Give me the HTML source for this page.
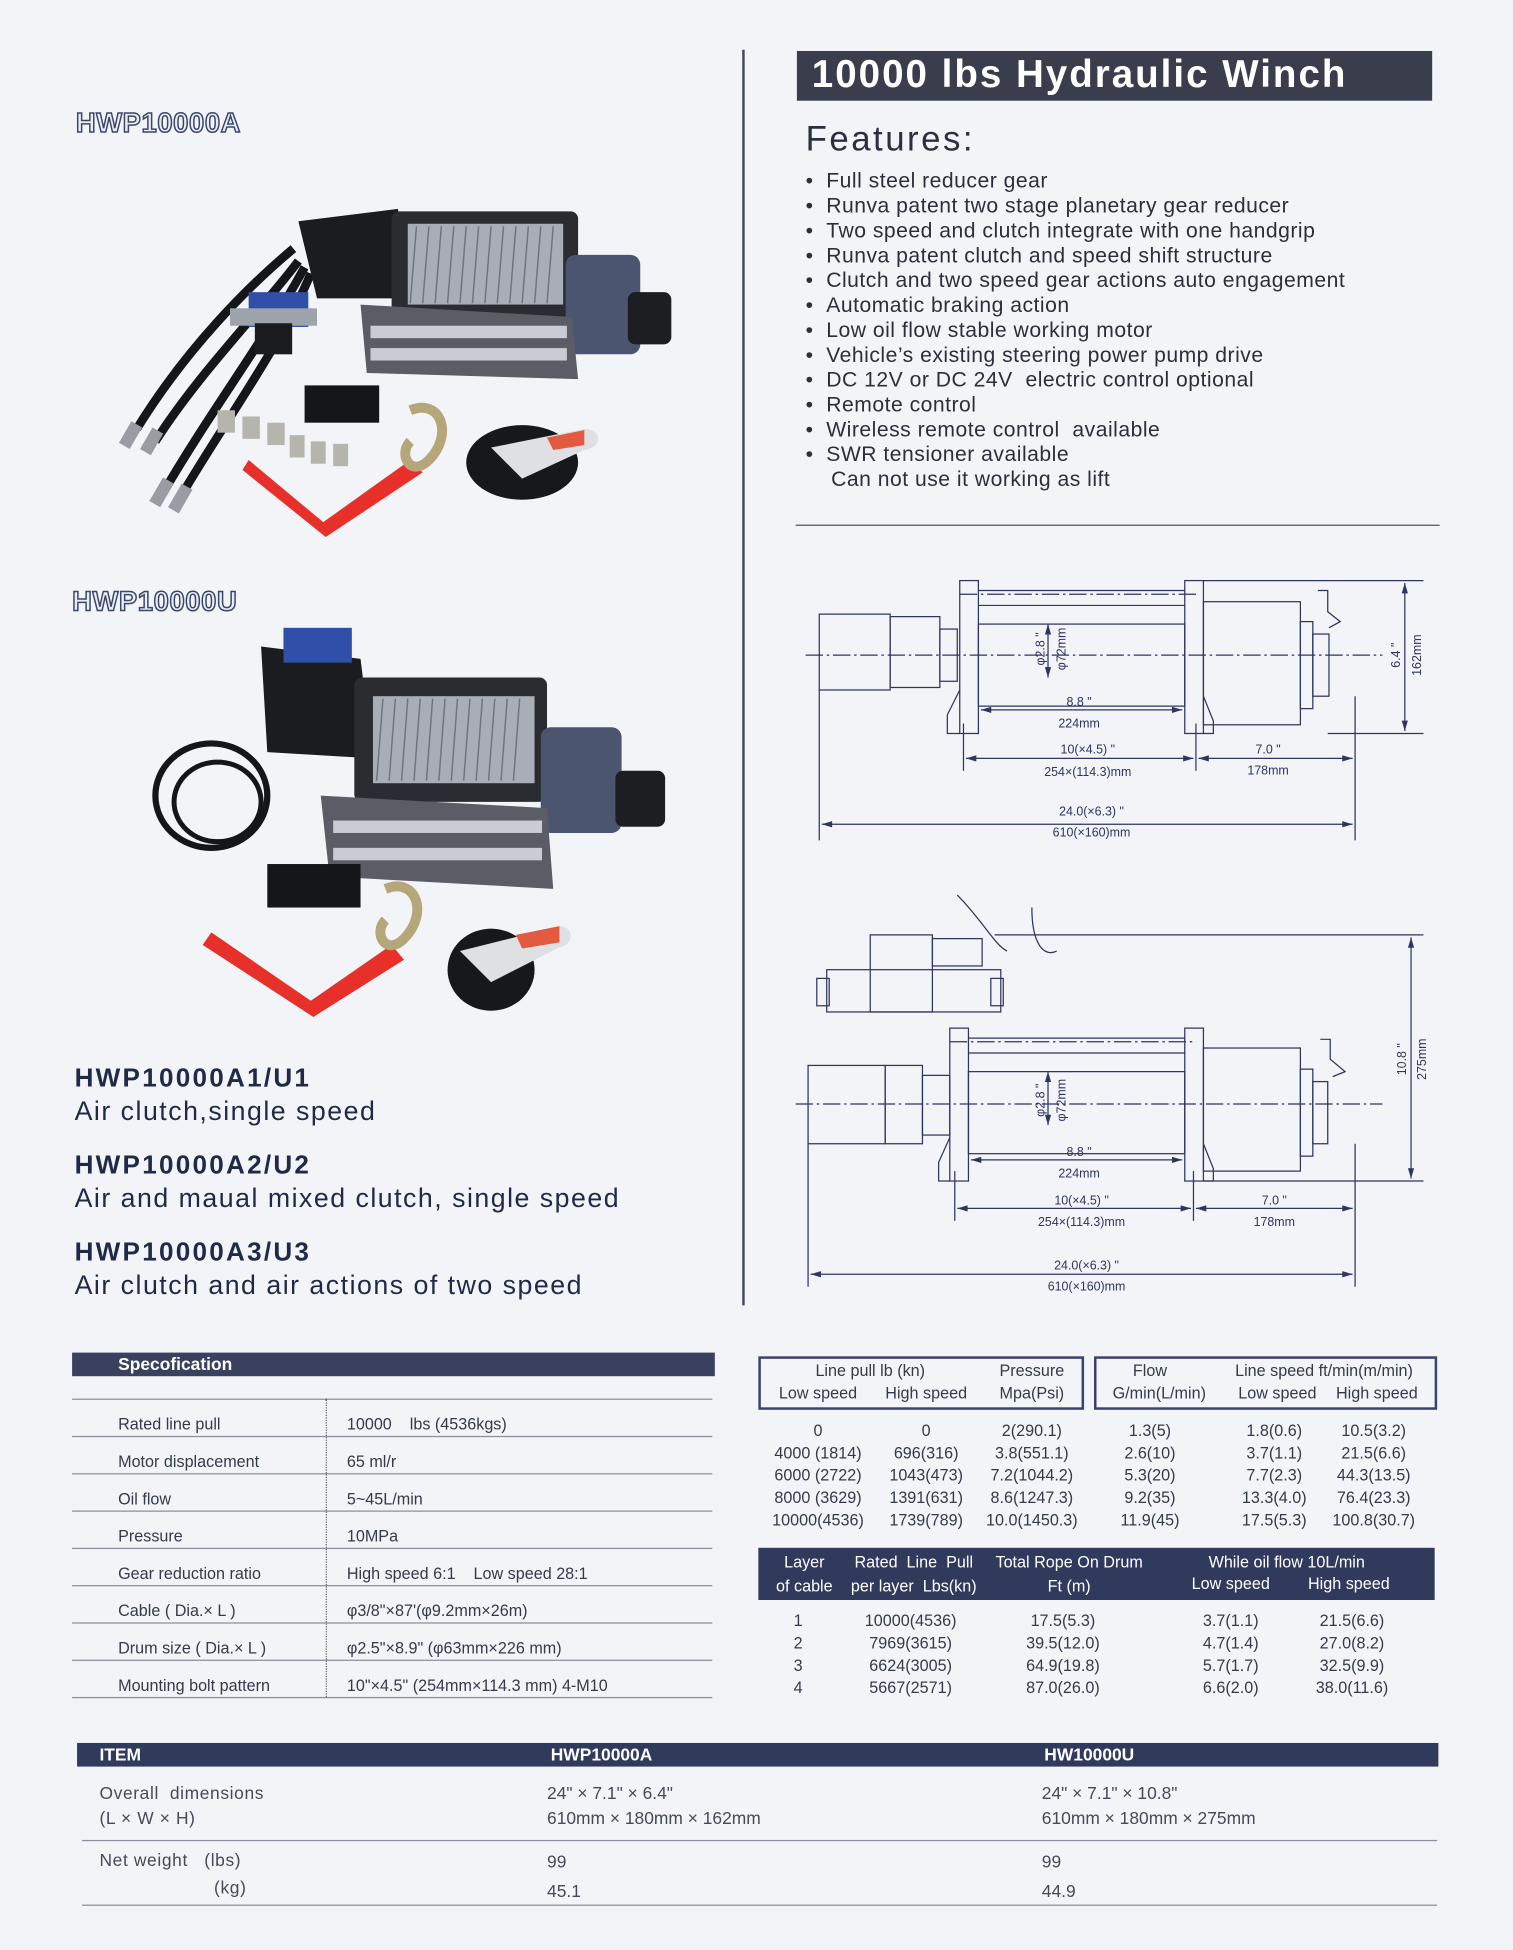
<!DOCTYPE html>
<html><head><meta charset="utf-8">
<style>
html,body{margin:0;padding:0;background:#f3f4f7;}
body{width:1513px;height:1950px;overflow:hidden;position:relative;}
#pg{position:absolute;left:0;top:0;width:1217px;height:1568px;transform:scale(1.2432);transform-origin:0 0;font-family:"Liberation Sans",Arial,sans-serif;color:#2a2f45;}
.a{position:absolute;white-space:nowrap;}
.out{font-family:"Liberation Sans",sans-serif;font-weight:bold;font-size:22px;color:#e9edf6;-webkit-text-stroke:1.2px #3b4766;letter-spacing:0.5px;}
.mh{font-weight:bold;font-size:21px;color:#1f2a48;letter-spacing:1.8px}
.ms{font-size:21.5px;color:#1f2a48;letter-spacing:1.2px}
.feat{font-size:17px;color:#2a2f3a;line-height:20px;letter-spacing:0.4px}
.sp{font-size:13px;color:#333a4a;}
.t{font-size:13px;color:#333a4a;text-align:center;}
.hl{position:absolute;height:1px;background:#8a8f9c;}
</style></head><body><div id="pg">

<div class="a out" style="left:61px;top:86px">HWP10000A</div>
<div class="a out" style="left:58px;top:471px">HWP10000U</div>

<svg class="a" style="left:0;top:0" width="600" height="1060" viewBox="0 0 600 1060">
 <g>
  <path d="M236,200 C200,230 150,280 110,345" stroke="#15161a" stroke-width="7" fill="none"/>
  <path d="M240,210 C210,250 160,300 125,355" stroke="#15161a" stroke-width="7" fill="none"/>
  <path d="M245,215 C215,270 170,330 132,395" stroke="#15161a" stroke-width="7" fill="none"/>
  <path d="M250,220 C225,280 180,340 145,400" stroke="#15161a" stroke-width="7" fill="none"/>
  <rect x="100" y="340" width="10" height="20" fill="#9a9ca3" transform="rotate(30 105 350)"/>
  <rect x="117" y="345" width="10" height="20" fill="#9a9ca3" transform="rotate(30 122 355)"/>
  <rect x="125" y="385" width="10" height="22" fill="#9a9ca3" transform="rotate(30 130 396)"/>
  <rect x="140" y="390" width="10" height="22" fill="#9a9ca3" transform="rotate(30 145 401)"/>
  <path d="M240,178 L320,168 L335,240 L255,240 Z" fill="#1b1c20"/>
  <rect x="315" y="170" width="150" height="90" rx="6" fill="#2b2c31"/>
  <rect x="328" y="180" width="125" height="65" fill="#a9adb5"/>
  <g stroke="#6f7480" stroke-width="1.2">
   <line x1="335" y1="182" x2="330" y2="244"/><line x1="345" y1="182" x2="340" y2="244"/><line x1="355" y1="182" x2="350" y2="244"/><line x1="365" y1="182" x2="360" y2="244"/><line x1="375" y1="182" x2="370" y2="244"/><line x1="385" y1="182" x2="380" y2="244"/><line x1="395" y1="182" x2="390" y2="244"/><line x1="405" y1="182" x2="400" y2="244"/><line x1="415" y1="182" x2="410" y2="244"/><line x1="425" y1="182" x2="420" y2="244"/><line x1="435" y1="182" x2="430" y2="244"/><line x1="445" y1="182" x2="440" y2="244"/>
  </g>
  <rect x="455" y="205" width="60" height="80" rx="8" fill="#4b5570"/>
  <rect x="505" y="235" width="35" height="42" rx="6" fill="#1d1e22"/>
  <path d="M290,245 L460,255 L465,305 L295,300 Z" fill="#5a5d66"/>
  <rect x="298" y="262" width="158" height="10" fill="#c9ccd2"/><rect x="298" y="280" width="158" height="10" fill="#c9ccd2"/>
  <rect x="200" y="235" width="48" height="28" fill="#2f4fa8"/><rect x="185" y="248" width="70" height="14" fill="#9fa3ab"/><rect x="205" y="260" width="30" height="25" fill="#1b1c20"/>
  <g fill="#15161a"><rect x="245" y="310" width="60" height="30"/></g>
  <g fill="#b6b5ad"><rect x="175" y="330" width="14" height="18"/><rect x="195" y="335" width="14" height="18"/><rect x="215" y="340" width="14" height="18"/><rect x="233" y="350" width="12" height="18"/><rect x="250" y="355" width="12" height="18"/><rect x="268" y="357" width="12" height="18"/></g>
  <path d="M200,370 L260,420 L330,370 L340,380 L262,432 L195,378 Z" fill="#e8302a"/>
  <path d="M330,330 C355,320 365,350 345,370 C330,385 320,365 330,355" stroke="#b5a77a" stroke-width="8" fill="none"/>
  <ellipse cx="420" cy="372" rx="45" ry="30" fill="#17181c"/>
  <path d="M395,360 L470,345 C485,345 485,360 470,362 L420,385 Z" fill="#dfe0e3"/><path d="M440,352 L470,346 L470,358 L445,362 Z" fill="#e25a40"/>
 </g>
 <g>
  <ellipse cx="170" cy="640" rx="45" ry="42" fill="none" stroke="#15161a" stroke-width="5"/>
  <ellipse cx="175" cy="645" rx="35" ry="32" fill="none" stroke="#15161a" stroke-width="4"/>
  <path d="M210,520 L290,530 L300,610 L215,605 Z" fill="#1b1c20"/>
  <rect x="228" y="505" width="55" height="28" fill="#2f4fa8"/>
  <rect x="285" y="545" width="155" height="100" rx="6" fill="#2b2c31"/>
  <rect x="300" y="560" width="130" height="70" fill="#a9adb5"/>
  <g stroke="#6f7480" stroke-width="1.2">
   <line x1="308" y1="562" x2="303" y2="628"/><line x1="318" y1="562" x2="313" y2="628"/><line x1="328" y1="562" x2="323" y2="628"/><line x1="338" y1="562" x2="333" y2="628"/><line x1="348" y1="562" x2="343" y2="628"/><line x1="358" y1="562" x2="353" y2="628"/><line x1="368" y1="562" x2="363" y2="628"/><line x1="378" y1="562" x2="373" y2="628"/><line x1="388" y1="562" x2="383" y2="628"/><line x1="398" y1="562" x2="393" y2="628"/><line x1="408" y1="562" x2="403" y2="628"/><line x1="418" y1="562" x2="413" y2="628"/>
  </g>
  <rect x="435" y="585" width="65" height="85" rx="8" fill="#4b5570"/>
  <rect x="495" y="620" width="40" height="45" rx="6" fill="#1d1e22"/>
  <path d="M258,640 L440,650 L445,715 L265,705 Z" fill="#5a5d66"/>
  <rect x="268" y="660" width="168" height="10" fill="#c9ccd2"/><rect x="268" y="682" width="168" height="10" fill="#c9ccd2"/>
  <rect x="215" y="695" width="75" height="35" fill="#15161a"/>
  <path d="M170,750 L250,805 L315,760 L325,772 L252,818 L163,760 Z" fill="#e8302a"/>
  <path d="M310,715 C335,705 345,735 325,755 C310,770 300,750 310,740" stroke="#b5a77a" stroke-width="8" fill="none"/>
  <ellipse cx="395" cy="780" rx="35" ry="33" fill="#17181c"/>
  <path d="M370,765 L450,745 C462,745 462,760 450,762 L395,790 Z" fill="#dfe0e3"/><path d="M415,752 L450,745 L450,758 L420,763 Z" fill="#e25a40"/>
 </g>
</svg>

<div class="a mh" style="left:60px;top:856px">HWP10000A1/U1</div>
<div class="a ms" style="left:60px;top:882px">Air clutch,single speed</div>
<div class="a mh" style="left:60px;top:926px">HWP10000A2/U2</div>
<div class="a ms" style="left:60px;top:952px">Air and maual mixed clutch, single speed</div>
<div class="a mh" style="left:60px;top:996px">HWP10000A3/U3</div>
<div class="a ms" style="left:60px;top:1022px">Air clutch and air actions of two speed</div>

<div class="a" style="left:597px;top:40px;width:1.5px;height:1010px;background:#444a5a"></div>

<div class="a" style="left:641px;top:41px;width:511px;height:40px;background:#393d4c;color:#fff;font-weight:bold;font-size:31px;line-height:38px;"><span style="padding-left:12px;letter-spacing:1.6px">10000 lbs Hydraulic Winch</span></div>
<div class="a" style="left:648px;top:96px;font-size:28px;letter-spacing:2px;color:#2b3040">Features:</div>
<div class="a feat" style="left:648px;top:136px">
• &nbsp;Full steel reducer gear<br>• &nbsp;Runva patent two stage planetary gear reducer<br>• &nbsp;Two speed and clutch integrate with one handgrip<br>• &nbsp;Runva patent clutch and speed shift structure<br>• &nbsp;Clutch and two speed gear actions auto engagement<br>• &nbsp;Automatic braking action<br>• &nbsp;Low oil flow stable working motor<br>• &nbsp;Vehicle’s existing steering power pump drive<br>• &nbsp;DC 12V or DC 24V &nbsp;electric control optional<br>• &nbsp;Remote control<br>• &nbsp;Wireless remote control &nbsp;available<br>• &nbsp;SWR tensioner available<br>&nbsp; &nbsp;&nbsp;Can not use it working as lift
</div>
<div class="a" style="left:640px;top:422px;width:518px;height:1px;background:#555"></div>

<svg class="a" style="left:0;top:0" width="1217" height="1060" viewBox="0 0 1217 1060">
<defs><marker id="ar" viewBox="0 0 10 6" refX="10" refY="3" markerWidth="9" markerHeight="5" orient="auto-start-reverse"><path d="M0,0 L10,3 L0,6Z" fill="#2e3560"/></marker></defs>
<g stroke="#2e3560" stroke-width="1" fill="none" font-family="Liberation Sans,sans-serif">
 <rect x="659" y="494" width="57" height="61"/><rect x="716" y="496" width="40" height="57"/>
 <rect x="756" y="506" width="14" height="42"/>
 <rect x="772" y="467" width="15" height="123"/><path d="M772,555 L762,575 L762,590 L772,590"/>
 <line x1="787" y1="475" x2="953" y2="475"/><line x1="787" y1="487" x2="953" y2="487"/>
 <rect x="787" y="502" width="166" height="66"/>
 <rect x="953" y="467" width="15" height="123"/><path d="M968,560 L976,580 L976,590 L968,590"/>
 <rect x="968" y="484" width="78" height="99"/><rect x="1046" y="500" width="10" height="70"/><rect x="1056" y="510" width="13" height="50"/>
 <path d="M1060,475 L1068,475 L1068,492 L1078,500 L1069,505"/>
 <line x1="1068" y1="590" x2="1145" y2="590"/><line x1="968" y1="467" x2="1145" y2="467"/>
 <line x1="648" y1="527" x2="1112" y2="527" stroke-dasharray="14,3,2,3"/>
 <line x1="772" y1="478" x2="962" y2="478" stroke-dasharray="14,3,2,3"/>
 <line x1="1130" y1="469" x2="1130" y2="588" marker-start="url(#ar)" marker-end="url(#ar)"/>
 <line x1="843" y1="502" x2="843" y2="545" marker-start="url(#ar)" marker-end="url(#ar)"/>
 <line x1="789" y1="571" x2="951" y2="571" marker-start="url(#ar)" marker-end="url(#ar)"/>
 <line x1="775" y1="582" x2="775" y2="620"/><line x1="962" y1="582" x2="962" y2="620"/><line x1="1090" y1="560" x2="1090" y2="676"/><line x1="659" y1="555" x2="659" y2="676"/>
 <line x1="777" y1="610" x2="960" y2="610" marker-start="url(#ar)" marker-end="url(#ar)"/>
 <line x1="964" y1="610" x2="1088" y2="610" marker-start="url(#ar)" marker-end="url(#ar)"/>
 <line x1="661" y1="663" x2="1088" y2="663" marker-start="url(#ar)" marker-end="url(#ar)"/>
 <path d="M770,720 C790,740 800,760 810,765 M830,730 C830,760 840,770 850,765"/>
 <rect x="700" y="752" width="50" height="62"/><rect x="665" y="780" width="140" height="34"/><rect x="657" y="787" width="10" height="22"/><rect x="797" y="787" width="10" height="22"/>
 <rect x="750" y="755" width="40" height="22"/>
 <rect x="650" y="857" width="62" height="63"/><rect x="712" y="857" width="30" height="63"/><rect x="742" y="865" width="22" height="48"/>
 <rect x="764" y="827" width="15" height="123"/><path d="M764,915 L755,935 L755,950 L764,950"/>
 <line x1="779" y1="835" x2="953" y2="835"/><line x1="779" y1="847" x2="953" y2="847"/>
 <rect x="779" y="862" width="174" height="66"/>
 <rect x="953" y="827" width="15" height="123"/><path d="M968,920 L976,940 L976,950 L968,950"/>
 <rect x="968" y="843" width="78" height="99"/><rect x="1046" y="860" width="10" height="70"/><rect x="1056" y="870" width="12" height="50"/>
 <path d="M1062,836 L1070,836 L1070,852 L1082,862 L1072,866"/>
 <line x1="968" y1="950" x2="1145" y2="950"/><line x1="800" y1="752" x2="1145" y2="752"/>
 <line x1="640" y1="888" x2="1112" y2="888" stroke-dasharray="14,3,2,3"/>
 <line x1="764" y1="838" x2="962" y2="838" stroke-dasharray="14,3,2,3"/>
 <line x1="1135" y1="754" x2="1135" y2="948" marker-start="url(#ar)" marker-end="url(#ar)"/>
 <line x1="843" y1="862" x2="843" y2="905" marker-start="url(#ar)" marker-end="url(#ar)"/>
 <line x1="781" y1="933" x2="951" y2="933" marker-start="url(#ar)" marker-end="url(#ar)"/>
 <line x1="768" y1="942" x2="768" y2="982"/><line x1="960" y1="942" x2="960" y2="982"/><line x1="1090" y1="920" x2="1090" y2="1035"/><line x1="650" y1="920" x2="650" y2="1035"/>
 <line x1="770" y1="972" x2="958" y2="972" marker-start="url(#ar)" marker-end="url(#ar)"/>
 <line x1="962" y1="972" x2="1088" y2="972" marker-start="url(#ar)" marker-end="url(#ar)"/>
 <line x1="652" y1="1025" x2="1088" y2="1025" marker-start="url(#ar)" marker-end="url(#ar)"/>
</g>
<g fill="#2e3560" font-family="Liberation Sans,sans-serif" font-size="10" text-anchor="middle">
 <text x="868" y="568">8.8 "</text><text x="868" y="585">224mm</text>
 <text x="875" y="606">10(×4.5) "</text><text x="875" y="624">254×(114.3)mm</text>
 <text x="1020" y="606">7.0 "</text><text x="1020" y="623">178mm</text>
 <text x="878" y="656">24.0(×6.3) "</text><text x="878" y="673">610(×160)mm</text>
 <text transform="translate(1126,527) rotate(-90)">6.4 "</text><text transform="translate(1143,527) rotate(-90)">162mm</text>
 <text transform="translate(840,522) rotate(-90)">φ2.8 "</text><text transform="translate(857,522) rotate(-90)">φ72mm</text>
 <text x="868" y="930">8.8 "</text><text x="868" y="947">224mm</text>
 <text x="870" y="969">10(×4.5) "</text><text x="870" y="986">254×(114.3)mm</text>
 <text x="1025" y="969">7.0 "</text><text x="1025" y="986">178mm</text>
 <text x="874" y="1021">24.0(×6.3) "</text><text x="874" y="1038">610(×160)mm</text>
 <text transform="translate(1131,852) rotate(-90)">10.8 "</text><text transform="translate(1147,852) rotate(-90)">275mm</text>
 <text transform="translate(840,885) rotate(-90)">φ2.8 "</text><text transform="translate(857,885) rotate(-90)">φ72mm</text>
</g>
</svg>

<div class="a" style="left:58px;top:1088px;width:517px;height:19px;background:#3a4160;color:#fff;font-weight:bold;font-size:14px;line-height:19px"><span style="padding-left:37px">Specofication</span></div>
<div class="hl" style="left:58px;top:1125px;width:515px"></div>
<div class="hl" style="left:58px;top:1155px;width:515px"></div>
<div class="hl" style="left:58px;top:1185px;width:515px"></div>
<div class="hl" style="left:58px;top:1215px;width:515px"></div>
<div class="hl" style="left:58px;top:1245px;width:515px"></div>
<div class="hl" style="left:58px;top:1275px;width:515px"></div>
<div class="hl" style="left:58px;top:1305px;width:515px"></div>
<div class="hl" style="left:58px;top:1335px;width:515px"></div>
<div class="hl" style="left:58px;top:1365px;width:515px"></div>
<div class="a" style="left:262px;top:1125px;height:240px;border-left:1px dotted #666"></div>
<div class="a sp" style="left:95px;top:1131px;line-height:30px">Rated line pull<br>Motor displacement<br>Oil flow<br>Pressure<br>Gear reduction ratio<br>Cable ( Dia.× L )<br>Drum size ( Dia.× L )<br>Mounting bolt pattern</div>
<div class="a sp" style="left:279px;top:1131px;line-height:30px">10000 &nbsp;&nbsp;&nbsp;lbs (4536kgs)<br>65 ml/r<br>5~45L/min<br>10MPa<br>High speed 6:1 &nbsp;&nbsp;&nbsp;Low speed 28:1<br>φ3/8"×87'(φ9.2mm×26m)<br>φ2.5"×8.9" (φ63mm×226 mm)<br>10"×4.5" (254mm×114.3 mm) 4-M10</div>

<div class="a" style="left:610px;top:1091px;width:258px;height:39px;border:2px solid #3a4170"></div>
<div class="a" style="left:880px;top:1091px;width:272px;height:39px;border:2px solid #3a4170"></div>
<div class="a t" style="left:630px;top:1095px;width:140px">Line pull lb (kn)</div>
<div class="a t" style="left:790px;top:1095px;width:80px">Pressure</div>
<div class="a t" style="left:613px;top:1113px;width:90px">Low speed</div>
<div class="a t" style="left:700px;top:1113px;width:90px">High speed</div>
<div class="a t" style="left:790px;top:1113px;width:80px">Mpa(Psi)</div>
<div class="a t" style="left:885px;top:1095px;width:80px">Flow</div>
<div class="a t" style="left:980px;top:1095px;width:170px">Line speed ft/min(m/min)</div>
<div class="a t" style="left:885px;top:1113px;width:95px">G/min(L/min)</div>
<div class="a t" style="left:985px;top:1113px;width:85px">Low speed</div>
<div class="a t" style="left:1065px;top:1113px;width:85px">High speed</div>
<div class="a t" style="left:613px;top:1142px;width:90px;line-height:18px">0<br>4000 (1814)<br>6000 (2722)<br>8000 (3629)<br>10000(4536)</div>
<div class="a t" style="left:700px;top:1142px;width:90px;line-height:18px">0<br>696(316)<br>1043(473)<br>1391(631)<br>1739(789)</div>
<div class="a t" style="left:785px;top:1142px;width:90px;line-height:18px">2(290.1)<br>3.8(551.1)<br>7.2(1044.2)<br>8.6(1247.3)<br>10.0(1450.3)</div>
<div class="a t" style="left:885px;top:1142px;width:80px;line-height:18px">1.3(5)<br>2.6(10)<br>5.3(20)<br>9.2(35)<br>11.9(45)</div>
<div class="a t" style="left:985px;top:1142px;width:80px;line-height:18px">1.8(0.6)<br>3.7(1.1)<br>7.7(2.3)<br>13.3(4.0)<br>17.5(5.3)</div>
<div class="a t" style="left:1060px;top:1142px;width:90px;line-height:18px">10.5(3.2)<br>21.5(6.6)<br>44.3(13.5)<br>76.4(23.3)<br>100.8(30.7)</div>

<div class="a" style="left:610px;top:1245px;width:544px;height:42px;background:#2f3a5c"></div>
<div class="a t" style="left:612px;top:1247px;width:70px;color:#fff;line-height:19px">Layer<br>of cable</div>
<div class="a t" style="left:680px;top:1247px;width:110px;color:#fff;line-height:19px">Rated &nbsp;Line &nbsp;Pull<br>per layer &nbsp;Lbs(kn)</div>
<div class="a t" style="left:800px;top:1247px;width:120px;color:#fff;line-height:19px">Total Rope On Drum<br>Ft (m)</div>
<div class="a t" style="left:950px;top:1247px;width:170px;color:#fff;line-height:19px">While oil flow 10L/min</div>
<div class="a t" style="left:950px;top:1266px;width:80px;color:#fff">Low speed</div>
<div class="a t" style="left:1045px;top:1266px;width:80px;color:#fff">High speed</div>
<div class="a t" style="left:612px;top:1295px;width:60px;line-height:18px">1<br>2<br>3<br>4</div>
<div class="a t" style="left:680px;top:1295px;width:105px;line-height:18px">10000(4536)<br>7969(3615)<br>6624(3005)<br>5667(2571)</div>
<div class="a t" style="left:810px;top:1295px;width:90px;line-height:18px">17.5(5.3)<br>39.5(12.0)<br>64.9(19.8)<br>87.0(26.0)</div>
<div class="a t" style="left:950px;top:1295px;width:80px;line-height:18px">3.7(1.1)<br>4.7(1.4)<br>5.7(1.7)<br>6.6(2.0)</div>
<div class="a t" style="left:1045px;top:1295px;width:85px;line-height:18px">21.5(6.6)<br>27.0(8.2)<br>32.5(9.9)<br>38.0(11.6)</div>

<div class="a" style="left:62px;top:1402px;width:1095px;height:19px;background:#2f3a5c;color:#fff;font-weight:bold;font-size:14px;line-height:19px">
 <span class="a" style="left:18px">ITEM</span><span class="a" style="left:381px">HWP10000A</span><span class="a" style="left:778px">HW10000U</span></div>
<div class="a" style="left:80px;top:1432px;font-size:14px;line-height:20px;color:#444a58;letter-spacing:0.5px">Overall &nbsp;dimensions<br>(L × W × H)</div>
<div class="a" style="left:440px;top:1432px;font-size:14px;line-height:20px;color:#444a58">24" × 7.1" × 6.4"<br>610mm × 180mm × 162mm</div>
<div class="a" style="left:838px;top:1432px;font-size:14px;line-height:20px;color:#444a58">24" × 7.1" × 10.8"<br>610mm × 180mm × 275mm</div>
<div class="hl" style="left:66px;top:1480px;width:1090px"></div>
<div class="a" style="left:80px;top:1485px;font-size:14px;line-height:22px;color:#444a58;letter-spacing:0.5px">Net weight &nbsp;&nbsp;(lbs)<br>&nbsp;&nbsp;&nbsp;&nbsp;&nbsp;&nbsp;&nbsp;&nbsp;&nbsp;&nbsp;&nbsp;&nbsp;&nbsp;&nbsp;&nbsp;&nbsp;&nbsp;&nbsp;&nbsp;&nbsp;&nbsp;(kg)</div>
<div class="a" style="left:440px;top:1485px;font-size:14px;line-height:24px;color:#444a58">99<br>45.1</div>
<div class="a" style="left:838px;top:1485px;font-size:14px;line-height:24px;color:#444a58">99<br>44.9</div>
<div class="hl" style="left:66px;top:1532px;width:1090px"></div>

</div></body></html>
